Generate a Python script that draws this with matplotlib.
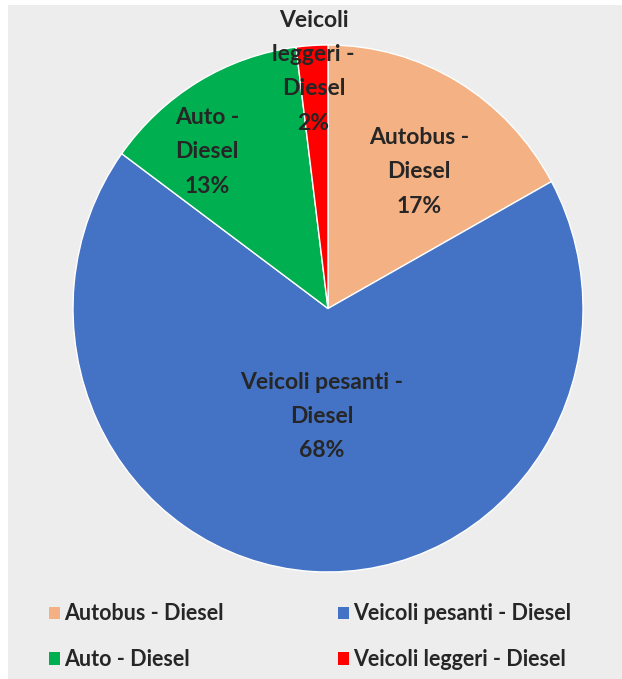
import matplotlib.pyplot as plt
from matplotlib.patches import Rectangle
import numpy as np

# Dati
categorie = ["Autobus - Diesel", "Veicoli pesanti - Diesel", "Auto - Diesel", "Veicoli leggeri - Diesel"]
etichette = ["Autobus -\nDiesel", "Veicoli pesanti -\nDiesel", "Auto -\nDiesel", "Veicoli\nleggeri -\nDiesel"]
percentuali = [17, 68, 13, 2]
colori = ["#F4B183", "#4472C4", "#00B050", "#FF0000"]

plt.rcParams["font.family"] = ["Lato", "DejaVu Sans"]

fig = plt.figure(figsize=(6.22, 6.79), dpi=100)
fig.patch.set_facecolor("white")
# gray panel
fig.add_artist(Rectangle((8 / 622, 0), 1, 1 - 5 / 679, transform=fig.transFigure,
                         facecolor="#EDEDED", edgecolor="none", zorder=0))

ax = fig.add_axes([73 / 622, 1 - 572 / 679, 510 / 622, 527 / 679])
ax.set_facecolor("none")

wedges, _ = ax.pie(percentuali, colors=colori, startangle=90, counterclock=False,
                   wedgeprops=dict(edgecolor="white", linewidth=1))
ax.set_xlim(-1, 1)
ax.set_ylim(-1, 1)
ax.set_aspect("auto")
ax.axis("off")

# radial distance of each label (Excel-like placement)
dist = [0.63, 0.41, 0.76, 0.90]
offs = [-4, 0, 8, 0]
for w, lab, p, d, o in zip(wedges, etichette, percentuali, dist, offs):
    ang = np.deg2rad((w.theta1 + w.theta2) / 2 + o)
    ax.text(d * np.cos(ang), d * np.sin(ang), f"{lab}\n{p}%",
            ha="center", va="center", fontsize=16.5, fontweight="bold",
            color="#262626", linespacing=1.78)

order = [0, 2, 1, 3]
leg = fig.legend([wedges[i] for i in order], [categorie[i] for i in order],
                 ncol=2, loc="upper left", bbox_to_anchor=(30 / 622, 1 - 584 / 679),
                 frameon=False, handlelength=0.5, handleheight=0.5, handletextpad=0.2,
                 columnspacing=5.3, labelspacing=1.15,
                 prop=dict(size=15.5, weight="bold"))
for t in leg.get_texts():
    t.set_color("#262626")
for h in leg.legend_handles:
    h.set_edgecolor("none")

fig.savefig("out.png", dpi=100, facecolor="white")
